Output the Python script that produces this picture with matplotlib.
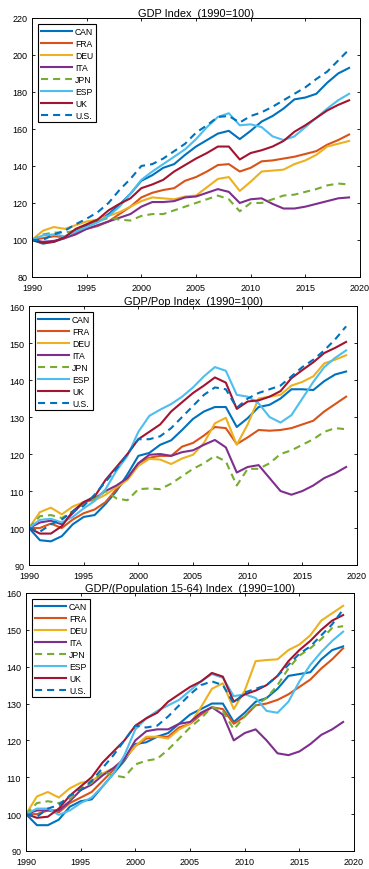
import matplotlib
matplotlib.use("Agg")
import matplotlib.pyplot as plt
import numpy as np

years = list(range(1990, 2020))
countries = ["CAN", "FRA", "DEU", "ITA", "JPN", "ESP", "UK", "U.S."]
colors = ["#0072BD", "#D95319", "#EDB120", "#7E2F8E", "#77AC30", "#4DBEEE", "#A2142F", "#0072BD"]
dashed = [False, False, False, False, True, False, False, True]

# Panel 1: GDP index
gdp_can = [100, 98, 99, 101, 105, 108, 110, 114, 119, 125, 132, 135, 139, 141, 146, 150.5, 154, 157.5, 159, 154.5, 159, 164, 167, 171, 176, 177, 179, 185, 190, 193]
gdp_fra = [100, 101, 102, 101.5, 104, 106, 107.5, 110, 114, 118, 123, 125.5, 127, 128, 132, 134, 137, 140.5, 141, 137, 139, 142.5, 143, 144, 145, 146.5, 148, 151.5, 154, 157]
gdp_deu = [100, 105, 107, 106, 108, 110, 111, 113, 115, 118, 121, 123, 122.5, 122, 123.5, 124, 128.5, 133, 134, 126.5, 131.5, 137, 137.5, 138, 141, 143, 146, 150.5, 152, 153.5]
gdp_ita = [100, 99, 99.5, 101, 103, 106, 108, 110, 112, 114, 118, 120.5, 120.5, 121, 123, 123.5, 125.5, 127.5, 126, 120, 122, 122.5, 119.5, 117, 117, 118, 119.5, 121, 122.5, 123]
gdp_jpn = [100, 103, 104, 104, 105, 107, 110, 112, 111, 110.5, 113, 114, 114, 116, 118, 120, 122, 124, 122, 115.5, 120, 120, 122, 124, 124.5, 126, 127.5, 129.5, 130.5, 130]
gdp_esp = [100, 102.5, 103, 102, 104.5, 107, 109.5, 113, 118, 125, 132.5, 137, 141, 145, 149, 154.5, 161, 166.5, 168.5, 162, 162.5, 161, 156, 154, 156, 161, 166, 171, 175.5, 179]
gdp_uk = [100, 98.5, 99, 101.5, 106, 108.5, 111, 116, 119.5, 122.5, 128, 130, 132.5, 137, 140.5, 144, 147, 150.5, 150.5, 143.5, 147, 148.5, 150.5, 153.5, 158.5, 162, 166, 170, 173, 175.5]
gdp_us = [100, 100, 103, 105, 108.5, 111.5, 115, 120, 127, 133, 140, 141, 144, 148, 152, 158, 162, 166.5, 167, 163.5, 167, 169, 172, 175.5, 179, 182.5, 187, 191, 197, 203]

# Panel 2: GDP per capita index
pc_can = [100, 96.7, 96.4, 97.8, 101, 103, 103.5, 106.5, 110, 114.5, 119.5, 120.3, 122.5, 123.7, 126.5, 129.5, 131.5, 132.7, 132.7, 127.3, 129.7, 132.7, 133.3, 135, 137.5, 137.5, 137.3, 139.7, 141.5, 142.3]
pc_fra = [100, 100, 101.2, 100, 102.3, 104, 105, 107, 110.5, 113.5, 117.5, 119, 119.5, 119.5, 122, 123, 125, 127.3, 127, 122.7, 124.5, 126.5, 126.3, 126.5, 127, 128, 129, 131.5, 133.5, 135.5]
pc_deu = [100, 104.3, 105.5, 103.7, 105.8, 107, 107.5, 109, 111, 113, 116.8, 118.7, 118.5, 117.3, 118.8, 119.8, 123, 128.3, 129.8, 122.5, 128, 135, 135.5, 136, 138.5, 139.5, 141, 144.5, 145.5, 146.7]
pc_ita = [100, 101.5, 102, 101, 104, 107, 108, 110, 111.5, 113.5, 117.5, 119.8, 120, 119.5, 120.5, 121, 122.5, 123.8, 121.8, 115, 116.5, 117, 113.5, 110, 109, 110, 111.5, 113.5, 114.8, 116.5]
pc_jpn = [100, 103.2, 103.5, 102.7, 104.5, 106.5, 108, 110, 108, 107.5, 110.5, 110.7, 110.5, 112, 114, 116, 117.5, 119.5, 118, 111.5, 116, 116, 117.5, 120, 121, 122.5, 124, 126, 127, 126.7]
pc_esp = [100, 102.2, 102.5, 101.5, 103, 105.3, 107.3, 110.5, 115.5, 119.5, 126, 130.3, 132, 133.5, 135.5, 138, 141, 143.5, 142.5, 136, 135.5, 133.7, 130, 128.5, 130.5, 135, 139.5, 143.5, 146, 148]
pc_uk = [100, 98.5, 98.5, 100.5, 104.5, 107, 108.5, 113, 116.5, 120, 124, 126, 128, 131.5, 134, 136.5, 138.5, 140.7, 139.3, 132.2, 134.2, 134.5, 135.5, 137, 140.5, 142.7, 144.8, 147.3, 148.7, 150.3]
pc_us = [100, 99, 101, 102.3, 104.5, 106, 109, 112.5, 116, 120, 124, 124, 124.8, 127, 130, 133, 136, 138, 137.5, 132.5, 135, 136.5, 137.5, 138.5, 141, 143.5, 145.5, 148, 151, 154.5]

# Panel 3: GDP per working-age population index
wa_can = [100, 97, 97, 98.5, 102, 103.5, 104, 107.5, 111, 114.5, 119, 119.5, 121, 122, 124.5, 127, 128.5, 130, 130, 125, 127.5, 130.5, 131.5, 134, 137.5, 138, 138.5, 142, 144.5, 145.5]
wa_fra = [100, 100, 101, 100.5, 103, 104.5, 106, 109, 112, 115, 118.5, 120.5, 121, 121, 123.5, 124.5, 127, 129, 128.5, 124.5, 126.5, 129.5, 130, 131, 132.5, 134.5, 136.5, 139.5, 142, 145]
wa_deu = [100, 104.8, 106, 104.5, 107, 108.5, 109, 111, 112.5, 115, 118.5, 121, 121, 120.5, 123, 124.5, 129, 134, 135.5, 128.5, 133.5, 141.5, 141.8, 142, 144.5, 146, 148.5, 152.5, 154.5, 156.5]
wa_ita = [100, 101, 101, 101, 103.5, 106.5, 108, 110.5, 112.5, 115, 120, 122.5, 123, 123, 124.5, 125, 127.5, 129, 127, 120, 122, 123, 120, 116.5, 116, 117, 119, 121.5, 123, 125]
wa_jpn = [100, 103, 103.5, 103, 104, 107, 108.5, 111.5, 110.5, 110, 113.5, 114.5, 115, 117.5, 120.5, 123.5, 126, 129, 128, 123, 126.5, 129.5, 131.5, 135, 139.5, 143, 145, 147.5, 150.5, 151]
wa_esp = [100, 101.5, 101.5, 99.8, 101, 103, 104.5, 107.5, 111, 116, 123, 126, 128, 129.5, 131, 133.5, 136, 138, 137, 132, 132.5, 131.5, 128, 127.5, 130.5, 136, 140.5, 144, 147, 149.5]
wa_uk = [100, 99, 99.3, 101.5, 105, 107.5, 110, 114, 117, 120, 124, 126, 127.5, 130.5, 132.5, 134.5, 136, 138.3, 137.3, 130.5, 132.5, 133.5, 135, 137.5, 141.5, 144.5, 147, 150, 152.5, 154]
wa_us = [100, 99.3, 101.5, 102.5, 105, 106.5, 109, 112.5, 116, 120, 124, 123.5, 124, 126.5, 129.5, 132.5, 135, 136, 135, 130, 133, 134, 135, 137.5, 140.5, 143.5, 145.5, 148.5, 151.5, 155.5]

titles = ["GDP Index  (1990=100)", "GDP/Pop Index  (1990=100)", "GDP/(Population 15-64) Index  (1990=100)"]
panels = [
    [gdp_can, gdp_fra, gdp_deu, gdp_ita, gdp_jpn, gdp_esp, gdp_uk, gdp_us],
    [pc_can, pc_fra, pc_deu, pc_ita, pc_jpn, pc_esp, pc_uk, pc_us],
    [wa_can, wa_fra, wa_deu, wa_ita, wa_jpn, wa_esp, wa_uk, wa_us],
]
ylims = [(80, 220), (90, 160), (90, 160)]
ysteps = [20, 10, 10]
xticks = [1990, 1995, 2000, 2005, 2010, 2015, 2020]

plt.rcParams['font.family'] = ['Liberation Sans', 'DejaVu Sans']

fig = plt.figure(figsize=(3.69, 8.70), dpi=100)
rects = [
    [0.0867, 0.6805, 0.889, 0.2977],
    [0.0786, 0.3494, 0.889, 0.2977],
    [0.0705, 0.0207, 0.889, 0.2966],
]

for rect, title, series, ylim, ystep in zip(rects, titles, panels, ylims, ysteps):
    ax = fig.add_axes(rect)
    for name, vals, col, dsh in zip(countries, series, colors, dashed):
        if dsh:
            ax.plot(years, vals, color=col, lw=1.5, dashes=(3.4, 2.4), label=name)
        else:
            ax.plot(years, vals, color=col, lw=1.5, label=name)
    ax.set_xlim(1990, 2020)
    ax.set_ylim(*ylim)
    ax.set_xticks(xticks)
    ax.set_yticks(np.arange(ylim[0], ylim[1] + 1, ystep))
    ax.tick_params(direction='in', top=True, right=True, length=2.4, width=0.6,
                   labelsize=6.5)
    ax.tick_params(axis='y', pad=3.5)
    ax.tick_params(axis='x', pad=4.0)
    for sp in ax.spines.values():
        sp.set_linewidth(0.7)
    ax.set_title(title, fontsize=7.9, pad=1.5)
    leg = ax.legend(loc='upper left', fontsize=6.2, handlelength=3.7, handletextpad=0.28,
                    labelspacing=0.35, borderpad=0.3, borderaxespad=0.7,
                    fancybox=False, framealpha=1, edgecolor='black')
    leg.get_frame().set_linewidth(0.8)

fig.savefig("out.png", dpi=100)
